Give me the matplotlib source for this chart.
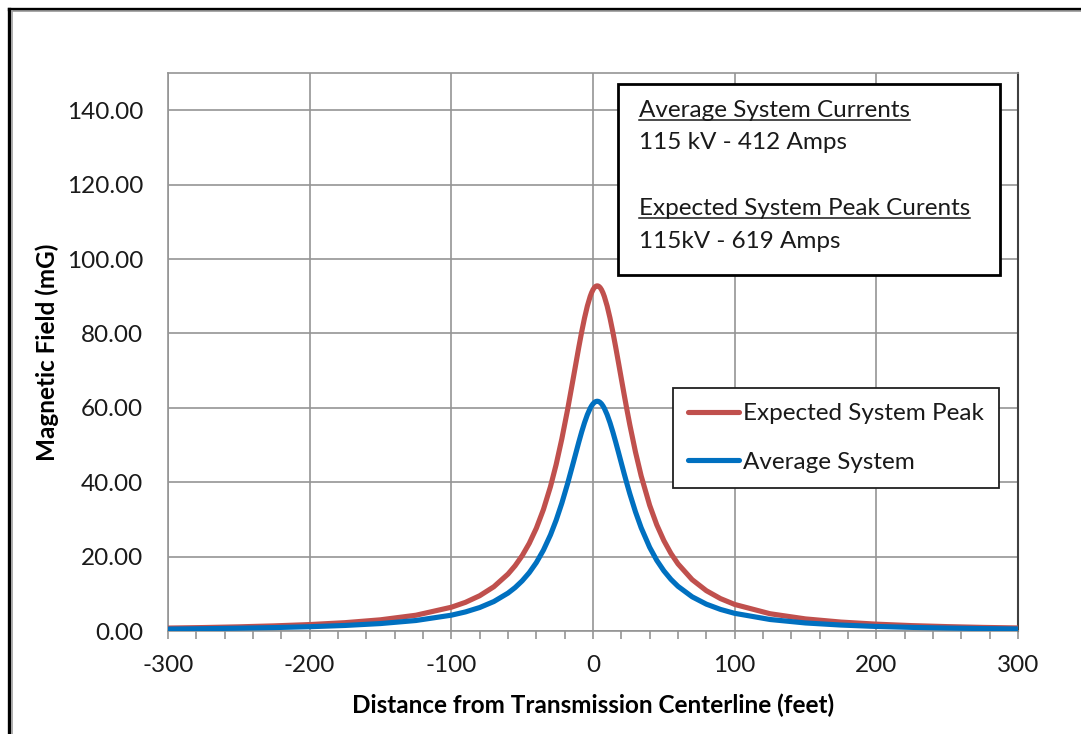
import matplotlib
matplotlib.use('Agg')
import matplotlib.pyplot as plt
from matplotlib.lines import Line2D
from matplotlib.patches import Rectangle
from matplotlib.ticker import MultipleLocator, FormatStrFormatter

plt.rcParams['font.family'] = ['Lato', 'DejaVu Sans']
plt.rcParams['axes.unicode_minus'] = False

# === Data (distance in feet, field in mG) ===
distance_ft = [-300, -275, -250, -225, -200, -175, -150, -125, -100, -90, -80, -70,
               -60, -55, -50, -45, -40, -35, -30, -26, -22, -18, -14, -10, -8, -6,
               -4, -2, -1, 0, 1, 2, 3, 4, 5, 6, 7, 8, 10, 12, 14, 16, 18, 20, 22,
               24, 26, 30, 34, 40, 45, 50, 55, 60, 70, 80, 90,
               100, 125, 150, 175, 200, 225, 250, 275, 300]

peak_mg = [0.79, 0.93, 1.12, 1.38, 1.73, 2.24, 3.01, 4.24, 6.39, 7.71, 9.48, 11.90,
           15.31, 17.54, 20.25, 23.56, 27.63, 32.65, 38.84, 44.77, 51.64, 59.39, 67.81,
           76.34, 80.39, 84.11, 87.34, 89.93, 90.94, 91.75, 92.33, 92.68, 92.80, 92.68,
           92.33, 91.75, 90.94, 89.93, 87.34, 84.11, 80.39, 76.34, 72.11, 67.81, 63.54,
           59.39, 55.41, 48.09, 41.69, 33.79, 28.55, 24.31, 20.86, 18.04, 13.80, 10.84,
           8.71, 7.14, 4.64, 3.25, 2.40, 1.84, 1.45, 1.18, 0.97, 0.82]

average_mg = [0.52, 0.62, 0.75, 0.92, 1.15, 1.49, 2.00, 2.82, 4.25, 5.13, 6.31, 7.92,
              10.19, 11.67, 13.48, 15.68, 18.39, 21.73, 25.85, 29.80, 34.37, 39.53, 45.13,
              50.81, 53.51, 55.98, 58.13, 59.86, 60.53, 61.07, 61.45, 61.69, 61.77, 61.69,
              61.45, 61.07, 60.53, 59.86, 58.13, 55.98, 53.51, 50.81, 48.00, 45.13, 42.29,
              39.53, 36.88, 32.01, 27.75, 22.49, 19.00, 16.18, 13.88, 12.01, 9.19, 7.22,
              5.80, 4.75, 3.09, 2.16, 1.60, 1.22, 0.97, 0.79, 0.65, 0.55]

series_names = ['Expected System Peak', 'Average System']
note_lines = ['Average System Currents', '115 kV - 412 Amps',
              'Expected System Peak Curents', '115kV - 619 Amps']

red = '#C0504D'
blue = '#0070C0'
grid_col = '#959595'
txt_col = '#1a1a1a'
fs = 17.5

fig = plt.figure(figsize=(10.81, 7.34), dpi=100)
W, H = 1081, 734
ax = fig.add_axes([168 / W, 1 - 631 / H, 850 / W, 558 / H])

ax.plot(distance_ft, peak_mg, color=red, lw=3.7, label=series_names[0],
        solid_capstyle='round', solid_joinstyle='round', zorder=3)
ax.plot(distance_ft, average_mg, color=blue, lw=3.7, label=series_names[1],
        solid_capstyle='round', solid_joinstyle='round', zorder=4)

ax.set_xlim(-300, 300)
ax.set_ylim(0, 150)
ax.xaxis.set_major_locator(MultipleLocator(100))
ax.xaxis.set_minor_locator(MultipleLocator(20))
ax.set_yticks(range(0, 141, 20))
ax.yaxis.set_major_formatter(FormatStrFormatter('%.2f'))

ax.grid(True, which='major', color=grid_col, lw=1.2)
ax.set_axisbelow(True)

ax.tick_params(axis='y', length=0, pad=18, labelsize=fs, labelcolor=txt_col)
ax.tick_params(axis='x', which='both', direction='out', length=5.5, width=1.2,
               color=grid_col, pad=12, labelsize=fs, labelcolor=txt_col)

for side in ['left', 'top', 'bottom']:
    ax.spines[side].set_color(grid_col)
    ax.spines[side].set_linewidth(1.2)
ax.spines['right'].set_color('#404040')
ax.spines['right'].set_linewidth(1.5)

ax.set_xlabel('Distance from Transmission Centerline (feet)', fontsize=fs,
              fontweight='bold', va='center')
ax.set_ylabel('Magnetic Field (mG)', fontsize=fs, fontweight='bold', va='center')
ax.xaxis.set_label_coords(0.5, -0.1326)
ax.yaxis.set_label_coords(-0.1424, 0.5)

leg = ax.legend(loc='upper left', bbox_to_anchor=(0.594, 0.4355), borderaxespad=0,
                fontsize=fs, handlelength=2.1, handletextpad=0.18, labelspacing=1.13,
                borderpad=0.62, fancybox=False, framealpha=1, edgecolor='#202020')
leg.get_frame().set_linewidth(1.3)
for txt in leg.get_texts():
    txt.set_color(txt_col)

# text box with the current notes
box = Rectangle((0.5294, 0.638), 0.9788 - 0.5294, 0.9803 - 0.638,
                transform=ax.transAxes, facecolor='white', edgecolor='black',
                lw=2, zorder=5)
ax.add_patch(box)
note_y = [0.9319, 0.8746, 0.7563, 0.6989]
note_texts = []
for s, y in zip(note_lines, note_y):
    t = ax.text(0.554, y, s, transform=ax.transAxes, fontsize=fs, va='center',
                ha='left', color=txt_col, zorder=6)
    note_texts.append(t)

# underline the two headings
fig.canvas.draw()
renderer = fig.canvas.get_renderer()
for t in [note_texts[0], note_texts[2]]:
    bb = t.get_window_extent(renderer)
    y_line = bb.y0 + 1
    fig.add_artist(Line2D([bb.x0 / W, bb.x1 / W], [y_line / H, y_line / H],
                          color=txt_col, lw=1.1, zorder=7))

# outer chart border (top and left visible in the crop)
fig.add_artist(Line2D([8.5 / W, 1.0], [1 - 8.5 / H, 1 - 8.5 / H], color='black', lw=2.4))
fig.add_artist(Line2D([8.5 / W, 8.5 / W], [0, 1 - 8.5 / H], color='black', lw=2.4))
fig.add_artist(Line2D([11.5 / W, 1.0], [1 - 11 / H, 1 - 11 / H], color='#a0a0a0', lw=1.2))
fig.add_artist(Line2D([11.5 / W, 11.5 / W], [0, 1 - 11 / H], color='#a0a0a0', lw=1.2))

fig.savefig('out.png', dpi=100)
